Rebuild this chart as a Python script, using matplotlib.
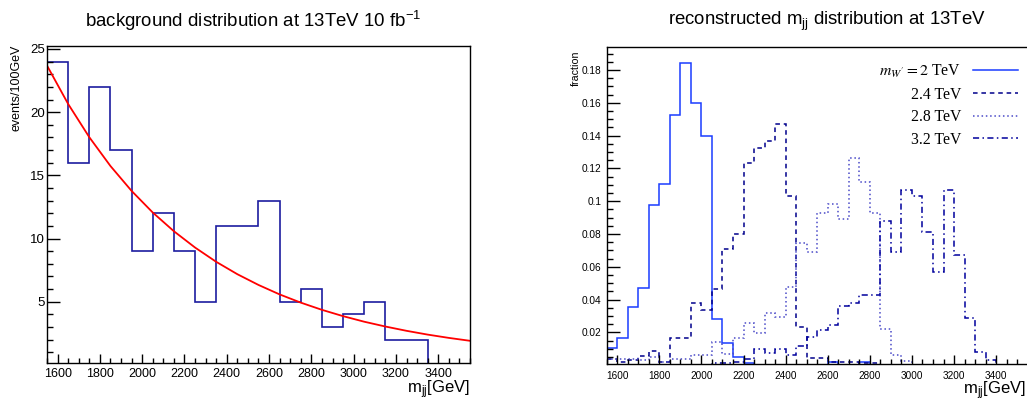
import numpy as np
import matplotlib
matplotlib.use("Agg")
import matplotlib.pyplot as plt
from matplotlib.ticker import MultipleLocator, FuncFormatter
from matplotlib.lines import Line2D

plt.rcParams['font.family'] = ['Liberation Sans', 'DejaVu Sans']
plt.rcParams['mathtext.fontset'] = 'custom'
plt.rcParams['mathtext.rm'] = 'Liberation Sans'
plt.rcParams['mathtext.it'] = 'Liberation Sans:italic'

# ---- left: background, 100 GeV bins ----
bkg_edges = [1550, 1650, 1750, 1850, 1950, 2050, 2150, 2250, 2350, 2450, 2550,
             2650, 2750, 2850, 2950, 3050, 3150, 3250, 3350, 3450, 3550]
bkg_counts = [24, 16, 22, 17, 9, 12, 9, 5, 11, 11, 13, 5, 6, 3, 4, 5, 2, 2, 0, 0]

# fitted curve
fit_x = [1550, 1650, 1750, 1850, 1950, 2050, 2150, 2250, 2350, 2450, 2550,
         2650, 2750, 2850, 2950, 3050, 3150, 3250, 3350, 3450, 3550]
fit_y = [23.69, 20.65, 18.02, 15.74, 13.77, 12.06, 10.58, 9.29, 8.16, 7.18, 6.33,
         5.58, 4.93, 4.36, 3.86, 3.42, 3.04, 2.70, 2.40, 2.14, 1.91]

# ---- right: signal shapes, 50 GeV bins from 1550 to 3550 ----
sig_edges = np.arange(1550, 3551, 50)
sig_labels = [r"$m_{W^{\prime}} = 2$ TeV", "2.4 TeV", "2.8 TeV", "3.2 TeV"]
sig_2000 = [0.0106, 0.0167, 0.0353, 0.0469, 0.0977, 0.1105, 0.1526, 0.1845, 0.160, 0.1396,
            0.0281, 0.0137, 0.0051, 0.001, 0, 0, 0, 0, 0, 0,
            0, 0.0019, 0, 0, 0.0019, 0, 0, 0, 0, 0,
            0, 0, 0, 0, 0, 0, 0, 0, 0, 0]
sig_2400 = [0.004, 0.002, 0.003, 0.0055, 0.0088, 0.0017, 0.0163, 0.0163, 0.0377, 0.0336,
            0.0464, 0.0708, 0.0798, 0.1235, 0.1326, 0.1367, 0.1469, 0.1032, 0.0234, 0.0041,
            0.0041, 0.002, 0.002, 0.002, 0.001, 0.001, 0, 0, 0, 0,
            0, 0, 0, 0, 0, 0, 0, 0, 0, 0]
sig_2800 = [0.004, 0.004, 0.0035, 0.003, 0.005, 0.002, 0.004, 0.004, 0.006, 0.006,
            0.0143, 0.0066, 0.0163, 0.0259, 0.0198, 0.0316, 0.0295, 0.0475, 0.0747, 0.0688,
            0.0926, 0.0985, 0.0888, 0.1262, 0.1119, 0.0926, 0.0218, 0.0064, 0.0025, 0,
            0, 0, 0, 0, 0, 0, 0, 0, 0, 0]
sig_3200 = [0, 0, 0, 0, 0, 0, 0, 0, 0, 0,
            0.001, 0.001, 0.002, 0.004, 0.0098, 0.0076, 0.0098, 0.0062, 0.0118, 0.0173,
            0.0214, 0.0242, 0.036, 0.038, 0.0428, 0.0428, 0.088, 0.0688, 0.1068, 0.1032,
            0.0814, 0.057, 0.1068, 0.067, 0.029, 0.008, 0.003, 0, 0, 0]

sig_values = [sig_2000, sig_2400, sig_2800, sig_3200]
sig_colors = ['#1a3cff', '#00008b', '#4a4ac8', '#00009c']
sig_styles = ['-', (0, (3, 2.5)), (0, (1, 1.8)), (0, (4, 2.2, 1, 2.2))]

W, H = 1027, 399
fig = plt.figure(figsize=(W / 100, H / 100), dpi=100)


def root_axes(ax, xlab_size, ylab_size, xpad, ypad):
    ax.tick_params(which='both', direction='in', top=False, right=False, width=1.0)
    ax.tick_params(axis='y', which='major', length=9, labelsize=ylab_size, pad=ypad)
    ax.tick_params(axis='y', which='minor', length=4.5)
    ax.tick_params(axis='x', which='major', length=6.8, labelsize=xlab_size, pad=xpad)
    ax.tick_params(axis='x', which='minor', length=3.4)
    for s in ax.spines.values():
        s.set_linewidth(1.0)
    ax.xaxis.set_major_locator(MultipleLocator(200))
    ax.xaxis.set_minor_locator(MultipleLocator(50))


# ============ left panel ============
ax1 = fig.add_axes([47 / W, 1 - 363.3 / H, 423 / W, 317.6 / H])
ax1.stairs(bkg_counts, bkg_edges, baseline=None, color='#1c1ca0', lw=1.2)
ax1.plot(fit_x, fit_y, color='#ff0000', lw=1.3)
ax1.set_xlim(1550, 3550)
ax1.set_ylim(0.13, 25.26)
root_axes(ax1, 9, 9.5, 3.6, 1.5)
ax1.yaxis.set_major_locator(MultipleLocator(5))
ax1.yaxis.set_minor_locator(MultipleLocator(1))

fig.text(253 / W, 1 - 21 / H, r"background distribution at 13TeV 10 fb$^{-1}$",
         ha='center', va='center', fontsize=13.4)
fig.text(17 / W, 1 - 45 / H, "events/100GeV", rotation=90, ha='center', va='top', fontsize=9)
fig.text(470 / W, 1 - 393 / H, r"m$_{\mathrm{jj}}$[GeV]", ha='right', va='baseline', fontsize=12)

# ============ right panel ============
ax2 = fig.add_axes([606.7 / W, 1 - 364.3 / H, 421 / W, 317 / H])
for vals, col, ls in zip(sig_values, sig_colors, sig_styles):
    ax2.stairs(vals, sig_edges, baseline=None, color=col, lw=1.1, linestyle=ls)
ax2.set_xlim(1550, 3550)
ax2.set_ylim(0.0005, 0.1938)
root_axes(ax2, 7.2, 7.3, 5, 3.6)
ax2.yaxis.set_major_locator(MultipleLocator(0.02))
ax2.yaxis.set_minor_locator(MultipleLocator(0.005))
ax2.yaxis.set_major_formatter(FuncFormatter(lambda v, p: f"{v:g}"))

handles = [Line2D([], [], color=c, lw=1.1, linestyle=s) for c, s in zip(sig_colors, sig_styles)]
leg = ax2.legend(handles, sig_labels, loc='upper right', bbox_to_anchor=(0.977, 0.951),
                 frameon=False, markerfirst=False, borderpad=0, borderaxespad=0,
                 handlelength=2.9, handletextpad=0.7, labelspacing=0.42,
                 prop={'family': 'Liberation Serif', 'size': 11.3})
for t in leg.get_texts():
    t.set_math_fontfamily('stix')

fig.text(827 / W, 1 - 21 / H, r"reconstructed m$_{\mathrm{jj}}$ distribution at 13TeV",
         ha='center', va='center', fontsize=13.4)
fig.text(576 / W, 1 - 50 / H, "fraction", rotation=90, ha='center', va='top', fontsize=7.7)
fig.text(1026 / W, 1 - 394 / H, r"m$_{\mathrm{jj}}$[GeV]", ha='right', va='baseline', fontsize=12)

fig.savefig("out.png", dpi=100)
